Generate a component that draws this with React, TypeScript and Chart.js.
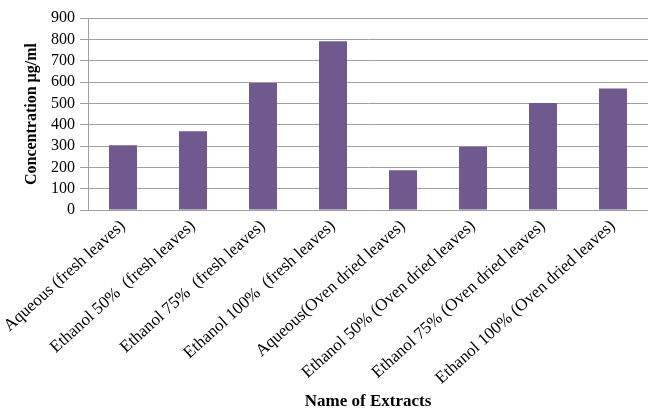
import React, { useEffect, useRef } from "react";
import { Chart, registerables } from "chart.js";

Chart.register(...registerables);

const categories = [
  "Aqueous (fresh leaves)",
  "Ethanol 50%  (fresh leaves)",
  "Ethanol 75%  (fresh leaves)",
  "Ethanol 100%  (fresh leaves)",
  "Aqueous(Oven dried leaves)",
  "Ethanol 50% (Oven dried leaves)",
  "Ethanol 75% (Oven dried leaves)",
  "Ethanol 100% (Oven dried leaves)",
];
const concentration = [303, 369, 595, 791, 186, 297, 502, 569];
const yTitle = "Concentration µg/ml";
const xTitle = "Name of Extracts";

export default function App() {
  const ref = useRef<HTMLCanvasElement | null>(null);
  useEffect(() => {
    const canvas = ref.current;
    if (!canvas) return;
    const serif = "'Liberation Serif', 'Times New Roman', serif";
    const chart = new Chart(canvas, {
      type: "bar",
      data: {
        labels: categories,
        datasets: [
          {
            data: concentration,
            backgroundColor: "#70598f",
            borderWidth: 0,
            barPercentage: 0.4,
            categoryPercentage: 1.0,
          },
        ],
      },
      options: {
        animation: false,
        responsive: false,
        maintainAspectRatio: false,
        layout: { padding: { top: 18, right: 0, left: 0, bottom: 0 } },
        plugins: { legend: { display: false }, tooltip: { enabled: false } },
        scales: {
          x: {
            grid: { display: false, drawTicks: false },
            border: { display: true, color: "#a0a0a0", width: 1 },
            ticks: {
              color: "#000",
              font: { family: serif, size: 17 },
              maxRotation: 42,
              minRotation: 42,
              autoSkip: false,
              padding: 6,
            },
            title: {
              display: true,
              text: xTitle,
              color: "#000",
              font: { family: serif, size: 17, weight: "bold", lineHeight: 1 },
              padding: { top: 0, bottom: 0 },
            },
            afterFit: (s: any) => {
              s.height = 200;
              s.paddingLeft = 0;
              s.paddingRight = 0;
            },
          },
          y: {
            min: 0,
            max: 900,
            ticks: {
              stepSize: 100,
              autoSkip: false,
              color: "#000",
              font: { family: serif, size: 16 },
              padding: 5,
            },
            grid: { color: "#a0a0a0", tickLength: 8, lineWidth: 1 },
            border: { display: true, color: "#a0a0a0", width: 1 },
            title: {
              display: true,
              text: yTitle,
              color: "#000",
              font: { family: serif, size: 16, weight: "bold", lineHeight: 1.2 },
              padding: { top: 22, bottom: 0 },
            },
            afterFit: (s: any) => {
              s.width = 88;
              s.paddingTop = 0;
              s.paddingBottom = 0;
            },
          },
        },
      },
    });
    return () => chart.destroy();
  }, []);
  return (
    <div style={{ position: "absolute", left: 0, top: 0, width: 648, height: 410, background: "#fff" }}>
      <canvas ref={ref} width={648} height={410} style={{ width: 648, height: 410, display: "block" }} />
    </div>
  );
}
